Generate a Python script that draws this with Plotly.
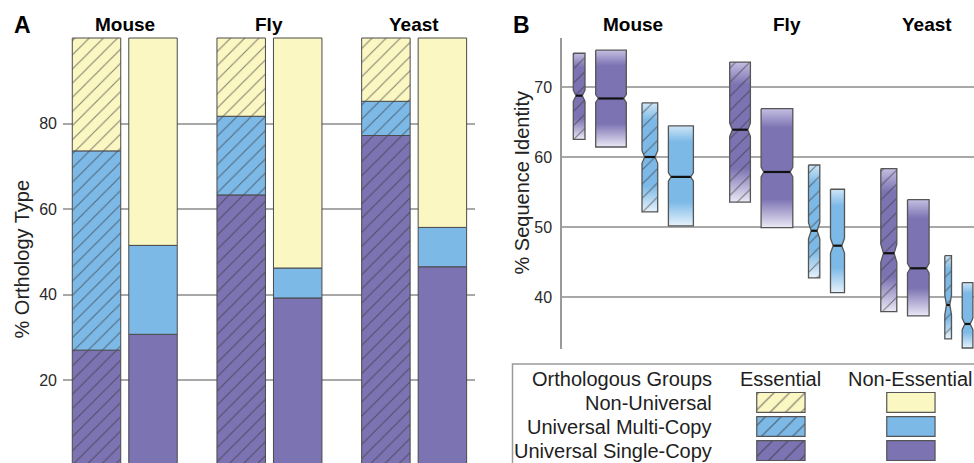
import plotly.graph_objects as go

W, H = 974, 463
FONT = "Liberation Sans, Arial, sans-serif"

# ---------------- data ----------------
SPECIES = ["Mouse", "Fly", "Yeast"]
ORTHO_TYPES = ["Universal Single-Copy", "Universal Multi-Copy", "Non-Universal"]

# Panel A: % of orthology type (segment sizes, bottom to top)
ESS_SINGLE = [27.0, 63.3, 77.2]
ESS_MULTI = [46.6, 18.4, 8.0]
ESS_NONUNI = [26.4, 18.3, 14.8]
NON_SINGLE = [30.7, 39.2, 46.5]
NON_MULTI = [20.8, 7.0, 9.2]
NON_NONUNI = [48.5, 53.8, 44.3]

# Panel B: % sequence identity boxes, order per species:
# essential single, non-essential single, essential multi, non-essential multi
BOX_SPECIES = ["Mouse"] * 4 + ["Fly"] * 4 + ["Yeast"] * 4
BOX_ESSENTIAL = [True, False, True, False] * 3
BOX_TYPE = ["Universal Single-Copy", "Universal Single-Copy",
            "Universal Multi-Copy", "Universal Multi-Copy"] * 3
BOX_Q3 = [74.86, 75.3, 67.76, 64.5, 73.6, 66.94, 58.9, 55.43, 58.37, 53.94, 45.94, 42.09]
BOX_MED = [68.8, 68.4, 60.04, 57.2, 63.94, 57.9, 49.5, 47.37, 46.29, 44.14, 38.9, 36.19]
BOX_Q1 = [62.57, 61.47, 52.2, 50.2, 53.6, 49.94, 42.76, 40.66, 37.94, 37.33, 34.07, 32.75]
BOX_NOTCH = [0.8, 0.57, 0.9, 0.6, 0.95, 0.7, 1.15, 1.05, 1.3, 0.7, 1.4, 0.83]
BOX_WIDTH = [11.7, 30.6, 15.7, 25.0, 20.7, 31.7, 11.3, 14.0, 16.0, 21.6, 6.7, 10.7]  # varwidth

TICKS_A = [20, 40, 60, 80]
TICKS_B = [40, 50, 60, 70]

# ---------------- styles ----------------
COL = {"Universal Single-Copy": "#7c73b2",
       "Universal Multi-Copy": "#7db9e7",
       "Non-Universal": "#fbf7c3"}
LIGHT = {"Universal Single-Copy": "#ebe9f6",
         "Universal Multi-Copy": "#e6f2fb"}
TOPLIGHT = {"Universal Single-Copy": "#c4bfe2",
            "Universal Multi-Copy": "#cfe6f7"}
EDGE = "#4a4a4a"
GRID = "#a8a8a8"
HATCH = dict(shape="/", fgcolor="#333333", fgopacity=0.6, size=10, solidity=0.11)


def px_x(p):
    return p / W


def px_y(p):
    return (H - p) / H


fig = go.Figure()

# ---------------- Panel A ----------------
GROUP_STEP = 2.561
BAR_W = 0.858
segs = {
    True: [ESS_SINGLE, ESS_MULTI, ESS_NONUNI],
    False: [NON_SINGLE, NON_MULTI, NON_NONUNI],
}
for ess, offset in [(True, 0.0), (False, 1.0)]:
    xs = [g * GROUP_STEP + offset for g in range(len(SPECIES))]
    base = [0.0] * len(SPECIES)
    for t, vals in zip(ORTHO_TYPES, segs[ess]):
        marker = dict(color=COL[t], line=dict(color=EDGE, width=1))
        if ess:
            marker["pattern"] = dict(HATCH)
        fig.add_trace(go.Bar(x=xs, y=vals, base=list(base), width=BAR_W,
                             marker=marker, xaxis="x", yaxis="y",
                             showlegend=False, hoverinfo="skip"))
        base = [b + v for b, v in zip(base, vals)]

# ---------------- Panel B ----------------
START = 11.3
GAP_PAIR, GAP_TYPE, GAP_GROUP = 10.7, 15.7, 36.3
lefts = []
cur = START
for i, w in enumerate(BOX_WIDTH):
    if i > 0:
        j = i % 4
        cur += GAP_GROUP if j == 0 else (GAP_TYPE if j == 2 else GAP_PAIR)
    lefts.append(cur)
    cur += w

for i in range(len(BOX_Q3)):
    l = lefts[i]
    w = BOX_WIDTH[i]
    r = l + w
    ind = min(2.7, 0.25 * w)
    q1, q3, m, n = BOX_Q1[i], BOX_Q3[i], BOX_MED[i], BOX_NOTCH[i]
    px = [l, r, r, r - ind, r, r, l, l, l + ind, l, l]
    py = [q3, q3, m + n, m, m - n, q1, q1, m - n, m, m + n, q3]
    t = BOX_TYPE[i]
    fig.add_trace(go.Scatter(
        x=px, y=py, mode="lines", fill="toself", line=dict(width=0),
        fillcolor=COL[t],
        fillgradient=dict(type="vertical", colorscale=[
            [0.0, LIGHT[t]], [0.24, COL[t]], [0.84, COL[t]], [1.0, TOPLIGHT[t]]]),
        xaxis="x2", yaxis="y2", showlegend=False, hoverinfo="skip"))
    if BOX_ESSENTIAL[i]:
        fig.add_trace(go.Scatter(
            x=px, y=py, mode="lines", fill="toself", line=dict(width=0),
            fillcolor="rgba(0,0,0,0)",
            fillpattern=dict(HATCH, bgcolor="rgba(0,0,0,0)"),
            xaxis="x2", yaxis="y2", showlegend=False, hoverinfo="skip"))
    fig.add_trace(go.Scatter(
        x=px, y=py, mode="lines", line=dict(color="#555555", width=1.3),
        xaxis="x2", yaxis="y2", showlegend=False, hoverinfo="skip"))
    fig.add_trace(go.Scatter(
        x=[l + ind, r - ind], y=[m, m], mode="lines",
        line=dict(color="#111111", width=2.2),
        xaxis="x2", yaxis="y2", showlegend=False, hoverinfo="skip"))

# ---------------- legend (drawn on a pixel-space overlay axis) ----------------
LEG_COL_X = {True: 780.9, False: 910.9}
LEG_ROW_TOP = {"Non-Universal": 392.5, "Universal Multi-Copy": 416.6,
               "Universal Single-Copy": 440.7}
for ess in (True, False):
    for t in ORTHO_TYPES:
        marker = dict(color=COL[t], line=dict(color="#555555", width=1.2))
        if ess:
            marker["pattern"] = dict(HATCH, size=11)
        fig.add_trace(go.Bar(x=[LEG_COL_X[ess]], y=[19.8], base=[LEG_ROW_TOP[t]],
                             width=48.3, marker=marker, xaxis="x3", yaxis="y3",
                             showlegend=False, hoverinfo="skip"))

ann = []
txt = dict(family=FONT, size=20, color="#1e1e1e")
ann.append(dict(text="Orthologous Groups", x=px_x(714), y=px_y(379), xref="paper",
                yref="paper", xanchor="right", yanchor="middle", showarrow=False, font=txt))
for t in ["Non-Universal", "Universal Multi-Copy", "Universal Single-Copy"]:
    ann.append(dict(text=t, x=px_x(714), y=px_y(LEG_ROW_TOP[t] + 10.5), xref="paper",
                    yref="paper", xanchor="right", yanchor="middle", showarrow=False,
                    font=txt))
ann.append(dict(text="Essential", x=px_x(LEG_COL_X[True]), y=px_y(379), xref="paper",
                yref="paper", xanchor="center", yanchor="middle", showarrow=False, font=txt))
ann.append(dict(text="Non-Essential", x=px_x(LEG_COL_X[False]), y=px_y(379), xref="paper",
                yref="paper", xanchor="center", yanchor="middle", showarrow=False, font=txt))

# panel letters and species titles
bold = dict(family=FONT, size=19, color="#000000")
ann.append(dict(text="<b>A</b>", x=px_x(12), y=px_y(25), xref="paper", yref="paper",
                xanchor="left", yanchor="middle", showarrow=False,
                font=dict(family=FONT, size=23, color="#000")))
ann.append(dict(text="<b>B</b>", x=px_x(511), y=px_y(25), xref="paper", yref="paper",
                xanchor="left", yanchor="middle", showarrow=False,
                font=dict(family=FONT, size=23, color="#000")))
for g, sp in enumerate(SPECIES):
    ann.append(dict(text=f"<b>{sp}</b>", x=g * GROUP_STEP + 0.5, xref="x",
                    y=px_y(25), yref="paper", xanchor="center", yanchor="middle",
                    showarrow=False, font=bold))
    gl = lefts[g * 4]
    gr = lefts[g * 4 + 3] + BOX_WIDTH[g * 4 + 3]
    ann.append(dict(text=f"<b>{sp}</b>", x=(gl + gr) / 2, xref="x2",
                    y=px_y(25), yref="paper", xanchor="center", yanchor="middle",
                    showarrow=False, font=bold))

# axis titles
ann.append(dict(text="% Orthology Type", x=px_x(21.5), y=px_y(259), xref="paper",
                yref="paper", textangle=-90, xanchor="center", yanchor="middle",
                showarrow=False, font=dict(family=FONT, size=20, color="#222")))
ann.append(dict(text="% Sequence Identity", x=px_x(521.5), y=px_y(183), xref="paper",
                yref="paper", textangle=-90, xanchor="center", yanchor="middle",
                showarrow=False, font=dict(family=FONT, size=20, color="#222")))

shapes = [dict(type="rect", xref="paper", yref="paper", x0=px_x(512.5), x1=1.02,
               y0=-0.05, y1=px_y(364), line=dict(color="#9a9a9a", width=1.5),
               fillcolor="rgba(0,0,0,0)", layer="below")]

tickfont = dict(family=FONT, size=16, color="#2a2a2a")
fig.update_layout(
    width=W, height=H, margin=dict(l=0, r=0, t=0, b=0),
    paper_bgcolor="white", plot_bgcolor="rgba(0,0,0,0)",
    barmode="overlay", showlegend=False, annotations=ann, shapes=shapes,
    font=dict(family=FONT),
    xaxis=dict(domain=[px_x(63), px_x(475)], range=[-0.593, 6.699], visible=False,
               fixedrange=True),
    yaxis=dict(domain=[0, px_y(36)], range=[0.6, 100.47], tickvals=TICKS_A,
               showgrid=True, gridcolor=GRID, gridwidth=1.5, zeroline=False,
               showline=False, ticks="", tickfont=tickfont, ticklabelstandoff=5,
               fixedrange=True),
    xaxis2=dict(domain=[px_x(562), 1], range=[0, 412], visible=False, anchor="y2",
                fixedrange=True),
    yaxis2=dict(domain=[px_y(349), px_y(38)], range=[32.61, 77.04], tickvals=TICKS_B,
                anchor="x2", showgrid=True, gridcolor=GRID, gridwidth=1.5,
                zeroline=False, showline=True, linecolor="#9a9a9a", linewidth=1.5,
                ticks="", tickfont=tickfont, ticklabelstandoff=5, fixedrange=True),
    xaxis3=dict(domain=[0, 1], range=[0, W], visible=False, anchor="y3",
                fixedrange=True),
    yaxis3=dict(domain=[0, 1], range=[H, 0], visible=False, anchor="x3",
                fixedrange=True),
)

fig.write_html("out.html")
